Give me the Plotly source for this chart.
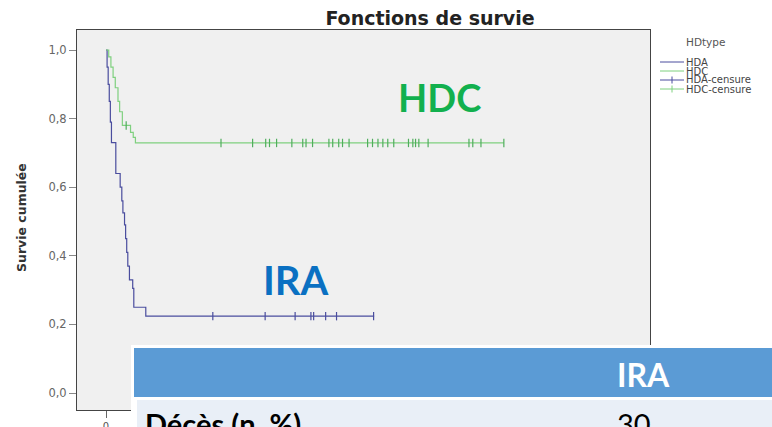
import plotly.graph_objects as go

# ---------------- data ----------------
hda_times = [0, 0.2, 0.4, 0.6, 0.8, 1.0, 1.8, 2.6, 2.9, 3.1, 3.4, 3.6, 3.8, 4.0, 4.3, 4.9, 5.1, 7.3, 49.2]
hda_surv = [1.0, 0.95, 0.90, 0.85, 0.79, 0.73, 0.64, 0.60, 0.56, 0.525, 0.49, 0.45, 0.41, 0.37, 0.33, 0.305, 0.25, 0.224, 0.224]
hda_cens = [19.6, 29.2, 34.7, 37.6, 38.1, 40.3, 42.3, 49.1]

hdc_times = [0, 0.5, 0.9, 1.3, 1.7, 2.2, 2.5, 3.0, 4.5, 5.0, 5.4, 73.0]
hdc_surv = [1.0, 0.98, 0.95, 0.92, 0.89, 0.85, 0.82, 0.78, 0.76, 0.745, 0.729, 0.729]
hdc_cens = [3.7, 21.1, 26.9, 29.3, 30.0, 31.3, 34.1, 36.1, 36.7, 37.9, 40.9, 41.6, 42.7, 43.4,
            44.6, 48.0, 48.9, 49.9, 50.8, 51.7, 52.8, 55.5, 56.3, 56.8, 57.4, 59.1, 66.6,
            67.3, 68.8, 73.0]

y_ticks = [0.0, 0.2, 0.4, 0.6, 0.8, 1.0]
y_tick_labels = ["0,0", "0,2", "0,4", "0,6", "0,8", "1,0"]
x_ticks = [0]
legend_labels = ["HDA", "HDC", "HDA-censure", "HDC-censure"]
table_header = ["", "IRA"]
table_row = ["Décès (n, %)", "30"]

BLUE = "#4a4d9e"
GREEN = "#7fd07f"
GREEN_CENS = "#4fae5c"

W, H = 772, 427
L, R, T, B = 77, 650, 30, 410


def step_at(times, surv, t):
    val = surv[0]
    for ti, si in zip(times, surv):
        if ti <= t:
            val = si
    return val


def px(xp):
    return (xp - L) / (R - L)


def py(yp):
    return (B - yp) / (B - T)


fig = go.Figure()
fig.add_trace(go.Scatter(x=hda_times, y=hda_surv, mode="lines", line=dict(color=BLUE, width=1.2, shape="hv"),
                         showlegend=False, hoverinfo="skip"))
fig.add_trace(go.Scatter(x=hdc_times, y=hdc_surv, mode="lines", line=dict(color=GREEN, width=1.2, shape="hv"),
                         showlegend=False, hoverinfo="skip"))
fig.add_trace(go.Scatter(x=hda_cens, y=[step_at(hda_times, hda_surv, t) for t in hda_cens], mode="markers",
                         marker=dict(symbol="line-ns-open", size=6, color=BLUE, line=dict(color=BLUE, width=1.2)),
                         showlegend=False, hoverinfo="skip"))
fig.add_trace(go.Scatter(x=hdc_cens, y=[step_at(hdc_times, hdc_surv, t) for t in hdc_cens], mode="markers",
                         marker=dict(symbol="line-ns-open", size=6, color=GREEN_CENS,
                                     line=dict(color=GREEN_CENS, width=1.2)),
                         showlegend=False, hoverinfo="skip"))

shapes = []
annotations = []

# manual legend
annotations.append(dict(xref="paper", yref="paper", x=px(684), y=py(42), text="HDtype", showarrow=False,
                        xanchor="left", yanchor="middle", font=dict(family="DejaVu Sans", size=10.5, color="#555")))
leg_y = [62, 71, 80, 89]
leg_col = [BLUE, GREEN, BLUE, GREEN]
for i, lab in enumerate(legend_labels):
    yy = leg_y[i]
    shapes.append(dict(type="line", xref="paper", yref="paper", x0=px(660), x1=px(684), y0=py(yy), y1=py(yy),
                       line=dict(color=leg_col[i], width=1)))
    if i >= 2:
        shapes.append(dict(type="line", xref="paper", yref="paper", x0=px(672), x1=px(672), y0=py(yy - 3.5),
                           y1=py(yy + 3.5), line=dict(color=leg_col[i], width=1)))
    annotations.append(dict(xref="paper", yref="paper", x=px(684), y=py(yy), text=lab, showarrow=False,
                            xanchor="left", yanchor="middle",
                            font=dict(family="DejaVu Sans", size=10, color="#444")))

# overlay labels
annotations.append(dict(xref="paper", yref="paper", x=px(440), y=py(97), text="<b>HDC</b>", showarrow=False,
                        xanchor="center", yanchor="middle", font=dict(family="Lato", size=38, color="#12b04e")))
annotations.append(dict(xref="paper", yref="paper", x=px(296), y=py(280), text="<b>IRA</b>", showarrow=False,
                        xanchor="center", yanchor="middle", font=dict(family="Lato", size=40, color="#0a70c2")))

# table overlay
shapes.append(dict(type="rect", xref="paper", yref="paper", x0=px(131), x1=px(775), y0=py(345), y1=py(430),
                   fillcolor="white", line=dict(width=0), layer="above"))
shapes.append(dict(type="rect", xref="paper", yref="paper", x0=px(134), x1=px(775), y0=py(348), y1=py(397),
                   fillcolor="#5b9bd5", line=dict(width=0), layer="above"))
shapes.append(dict(type="rect", xref="paper", yref="paper", x0=px(137), x1=px(775), y0=py(400), y1=py(430),
                   fillcolor="#e9eff7", line=dict(width=0), layer="above"))
annotations.append(dict(xref="paper", yref="paper", x=px(615), y=py(374), text="<b>" + table_header[1] + "</b>",
                        showarrow=False, xanchor="left", yanchor="middle",
                        font=dict(family="Lato", size=32, color="white")))
annotations.append(dict(xref="paper", yref="paper", x=px(143), y=py(424), text="<b>" + table_row[0] + "</b>",
                        showarrow=False, xanchor="left", yanchor="middle",
                        font=dict(family="Lato", size=29, color="black")))
annotations.append(dict(xref="paper", yref="paper", x=px(615), y=py(424), text=table_row[1],
                        showarrow=False, xanchor="left", yanchor="middle",
                        font=dict(family="Lato", size=29, color="black")))

# y title
annotations.append(dict(xref="paper", yref="paper", x=px(21), y=py(218), text="<b>Survie cumulée</b>",
                        textangle=-90, showarrow=False, xanchor="center", yanchor="middle",
                        font=dict(family="DejaVu Sans", size=12.5, color="#333")))

y0v = (393 - B) / 343
y1v = (393 - T) / 343
x_per = 5.45
x0v = (L - 106) / x_per
x1v = (R - 106) / x_per

fig.update_layout(
    width=W, height=H,
    margin=dict(l=L, r=W - R, t=T, b=H - B, autoexpand=False),
    paper_bgcolor="white", plot_bgcolor="#f0f0f0",
    title=dict(text="<b>Fonctions de survie</b>", xref="container", x=430 / W, xanchor="center",
               yref="container", y=1 - 18 / H, yanchor="middle",
               font=dict(family="DejaVu Sans", size=19, color="#222")),
    shapes=shapes, annotations=annotations, showlegend=False,
    xaxis=dict(range=[x0v, x1v], tickvals=x_ticks, ticktext=[str(v) for v in x_ticks], showgrid=False,
               automargin=False, zeroline=False, showline=True, mirror=True, linecolor="#444", linewidth=1,
               ticks="outside", ticklen=7, tickcolor="#666",
               tickfont=dict(family="DejaVu Sans", size=10, color="#555")),
    yaxis=dict(range=[y0v, y1v], tickvals=y_ticks, ticktext=y_tick_labels, showgrid=False, zeroline=False,
               automargin=False, showline=True, mirror=True, linecolor="#444", linewidth=1, ticks="outside",
               ticklen=7, tickcolor="#888", tickfont=dict(family="DejaVu Sans", size=11.5, color="#666")),
)

fig.write_html("out.html", config={"displayModeBar": False},
               post_script="document.body.style.margin='0';document.body.style.padding='0';")
